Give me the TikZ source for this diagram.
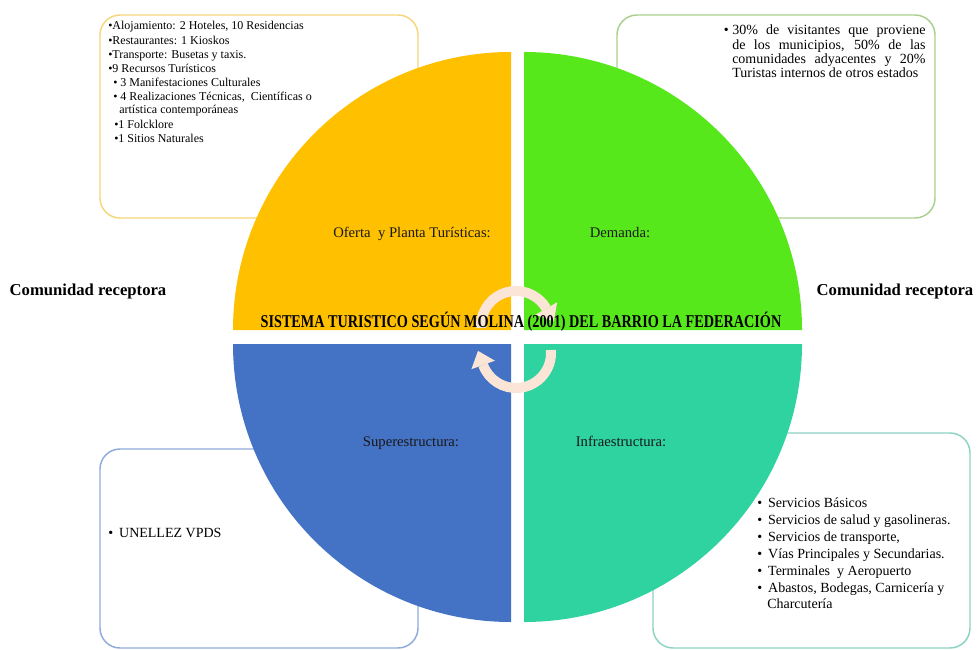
\documentclass[tikz,border=0pt]{standalone}
\usepackage{fontspec}
\setmainfont{Liberation Serif}
\usepackage{graphicx}
\usetikzlibrary{calc}
\definecolor{qyel}{HTML}{FFC000}
\definecolor{qgrn}{HTML}{57E81C}
\definecolor{qblu}{HTML}{4472C4}
\definecolor{qtel}{HTML}{2ED3A0}
\definecolor{byel}{HTML}{F5D77A}
\definecolor{bgrn}{HTML}{A9D18E}
\definecolor{bblu}{HTML}{8FAADC}
\definecolor{btel}{HTML}{8CD3C4}
\definecolor{peach}{HTML}{FBE5D6}
\begin{document}
\begin{tikzpicture}[x=0.75pt,y=0.75pt,
  infobox/.style={draw=#1, line width=1.1pt, rounded corners=15pt, fill=white},
  qlabel/.style={font=\fontsize{11}{13}\selectfont, text=black!90, inner sep=0, anchor=base},
  side/.style={font=\bfseries\fontsize{12.5}{14}\selectfont, inner sep=0, anchor=base},
  small/.style={font=\fontsize{9}{10.5}\selectfont, inner sep=0, anchor=base west},
  mid/.style={font=\fontsize{10.5}{12}\selectfont, inner sep=0, anchor=base west},
  band/.style={draw=peach, line width=7.5pt},
  head/.style={fill=peach}]
\useasboundingbox (0,0) rectangle (977,-649);
\fill[white] (0,0) rectangle (977,-649);

% boxes
\draw[infobox=byel] (100,-15) rectangle (418,-218);
\draw[infobox=bgrn] (617,-15) rectangle (935,-218);
\draw[infobox=bblu] (100,-449) rectangle (418,-648);
\draw[infobox=btel] (653,-433) rectangle (970,-648);

% quadrants
\fill[qyel] (511,-330) -- (233,-330) arc[start angle=180,end angle=90,radius=278] -- cycle;
\fill[qgrn] (524,-330) -- (524,-52) arc[start angle=90,end angle=0,radius=278] -- cycle;
\fill[qblu] (511,-344) -- (233,-344) arc[start angle=180,end angle=270,radius=278] -- cycle;
\fill[qtel] (524,-344) -- (802,-344) arc[start angle=0,end angle=-90,radius=278] -- cycle;

% circular arrows
\coordinate (tc) at (516,-326);
\coordinate (bc) at (516,-353);
\draw[band] ($(tc)+(183:35)$) arc[start angle=183,end angle=30,radius=35];
\fill[head] ($(tc)+(30:47.5)$) -- ($(tc)+(30:22.5)$) -- ($(tc)+(30:35)+(-60:15)$) -- cycle;
\draw[band] ($(bc)+(5:35)$) arc[start angle=5,end angle=-160,radius=35];
\fill[head] ($(bc)+(-160:47.5)$) -- ($(bc)+(-160:22.5)$) -- ($(bc)+(-160:35)+(-250:15)$) -- cycle;

% title
\node[font=\bfseries\fontsize{13.5}{15}\selectfont, inner sep=0, anchor=base] (title) at (521,-327)
  {\scalebox{0.79}[1]{SISTEMA TURISTICO SEGÚN MOLINA (2001) DEL BARRIO LA FEDERACIÓN}};

% side labels
\node[side] (cl) at (88,-295) {Comunidad receptora};
\node[side] (cr) at (895,-295) {Comunidad receptora};

% quadrant labels
\node[qlabel] (qo) at (412,-237) {Oferta\ \ y Planta Turísticas:};
\node[qlabel] (qd) at (620,-237) {Demanda:};
\node[qlabel] (qs) at (411,-446) {Superestructura:};
\node[qlabel] (qi) at (621,-446) {Infraestructura:};

% top-left list
\node[small] (tl1) at (108,-30) {•Alojamiento: 2 Hoteles, 10 Residencias};
\node[small] (tl2) at (108,-44.1) {•Restaurantes: 1 Kioskos};
\node[small] (tl3) at (108,-58.2) {•Transporte: Busetas y taxis.};
\node[small] (tl4) at (108,-72.3) {•9 Recursos Turísticos};
\node[small] (tl5) at (113,-86.4) {• 3 Manifestaciones Culturales};
\node[small] (tl6) at (113,-100.5) {• 4 Realizaciones Técnicas,\ \ Científicas o};
\node[small] (tl7) at (119,-114) {artística contemporáneas};
\node[small] (tl8) at (114,-128.2) {•1 Folcklore};
\node[small] (tl9) at (114,-142.3) {•1 Sitios Naturales};

% top-right text
\node[mid, anchor=base east] (trb) at (729,-35) {•};
\node[mid] (tr1) at (732,-35) {\makebox[145pt][s]{30\% de visitantes que proviene}};
\node[mid] (tr2) at (732,-49.3) {\makebox[145pt][s]{de los municipios, 50\% de las}};
\node[mid] (tr3) at (732,-63.6) {\makebox[145pt][s]{comunidades adyacentes y 20\%}};
\node[mid] (tr4) at (732,-78) {Turistas internos de otros estados};

% bottom-left text
\node[mid] (bl1) at (108,-537) {•\hspace{4.5pt}UNELLEZ VPDS};

% bottom-right list
\node[mid] (br1) at (757,-507) {•\hspace{4.5pt}Servicios Básicos};
\node[mid] (br2) at (757,-524) {•\hspace{4.5pt}Servicios de salud y gasolineras.};
\node[mid] (br3) at (757,-541) {•\hspace{4.5pt}Servicios de transporte,};
\node[mid] (br4) at (757,-558) {•\hspace{4.5pt}Vías Principales y Secundarias.};
\node[mid] (br5) at (757,-575) {•\hspace{4.5pt}Terminales\ \ y Aeropuerto};
\node[mid] (br6) at (757,-592) {•\hspace{4.5pt}Abastos, Bodegas, Carnicería y};
\node[mid] (br7) at (767,-608) {Charcutería};
\end{tikzpicture}
\end{document}
